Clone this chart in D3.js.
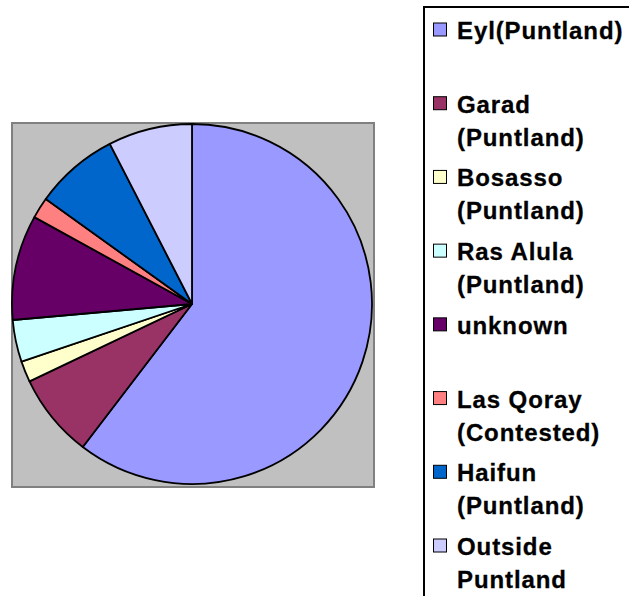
<!DOCTYPE html>
<html>
<head>
<meta charset="utf-8">
<script src="https://cdn.jsdelivr.net/npm/d3@7"></script>
<style>
  body { margin: 0; background: #fff; }
  svg { display: block; }
</style>
</head>
<body>
<script>
// slices, clockwise from 12 o'clock
const places = [
  "Eyl(Puntland)",
  "Garad\n(Puntland)",
  "Bosasso\n(Puntland)",
  "Ras Alula\n(Puntland)",
  "unknown",
  "Las Qoray\n(Contested)",
  "Haifun\n(Puntland)",
  "Outside\nPuntland"
];
const counts = [32, 4, 1, 2, 5, 1, 4, 4];
const colors = ["#9999ff", "#993366", "#ffffcc", "#ccffff", "#660066", "#ff8080", "#0066cc", "#ccccff"];

const width = 629, height = 596;
const svg = d3.select("body").append("svg")
  .attr("width", width)
  .attr("height", height);

// plot area
svg.append("rect")
  .attr("x", 12).attr("y", 123)
  .attr("width", 362).attr("height", 364)
  .attr("fill", "#c0c0c0")
  .attr("stroke", "#808080")
  .attr("stroke-width", 2);

const cx = 192, cy = 304, r = 180;

const pie = d3.pie().sort(null).value((d) => d.v);
const arc = d3.arc().innerRadius(0).outerRadius(r);
const data = counts.map((v, i) => ({ v: v, name: places[i], col: colors[i] }));

svg.append("g")
  .attr("transform", `translate(${cx},${cy})`)
  .selectAll("path")
  .data(pie(data))
  .join("path")
  .attr("d", arc)
  .attr("fill", (d) => d.data.col)
  .attr("stroke", "#000")
  .attr("stroke-width", 1.8)
  .attr("stroke-linejoin", "round");

// legend
svg.append("rect")
  .attr("x", 424).attr("y", 7)
  .attr("width", 400).attr("height", 800)
  .attr("fill", "#fff")
  .attr("stroke", "#000")
  .attr("stroke-width", 2);

const step = d3.scaleLinear().domain([0, places.length - 1]).range([39, 555]);

const item = svg.append("g")
  .selectAll("g")
  .data(data)
  .join("g")
  .attr("transform", (d, i) => `translate(0,${step(i)})`);

item.append("rect")
  .attr("x", 433.5).attr("y", -16)
  .attr("width", 13).attr("height", 13)
  .attr("fill", (d) => d.col)
  .attr("stroke", "#000")
  .attr("stroke-width", 1);

item.append("text")
  .attr("x", 457)
  .attr("font-family", "'Liberation Sans', Arial, sans-serif")
  .attr("font-weight", "bold")
  .attr("font-size", 24)
  .attr("letter-spacing", 0.9)
  .attr("fill", "#000")
  .attr("stroke", "#000")
  .attr("stroke-width", 0.3)
  .selectAll("tspan")
  .data((d) => d.name.split("\n"))
  .join("tspan")
  .attr("x", 457)
  .attr("y", (d, i) => i * 33)
  .text((d) => d);
</script>
</body>
</html>
